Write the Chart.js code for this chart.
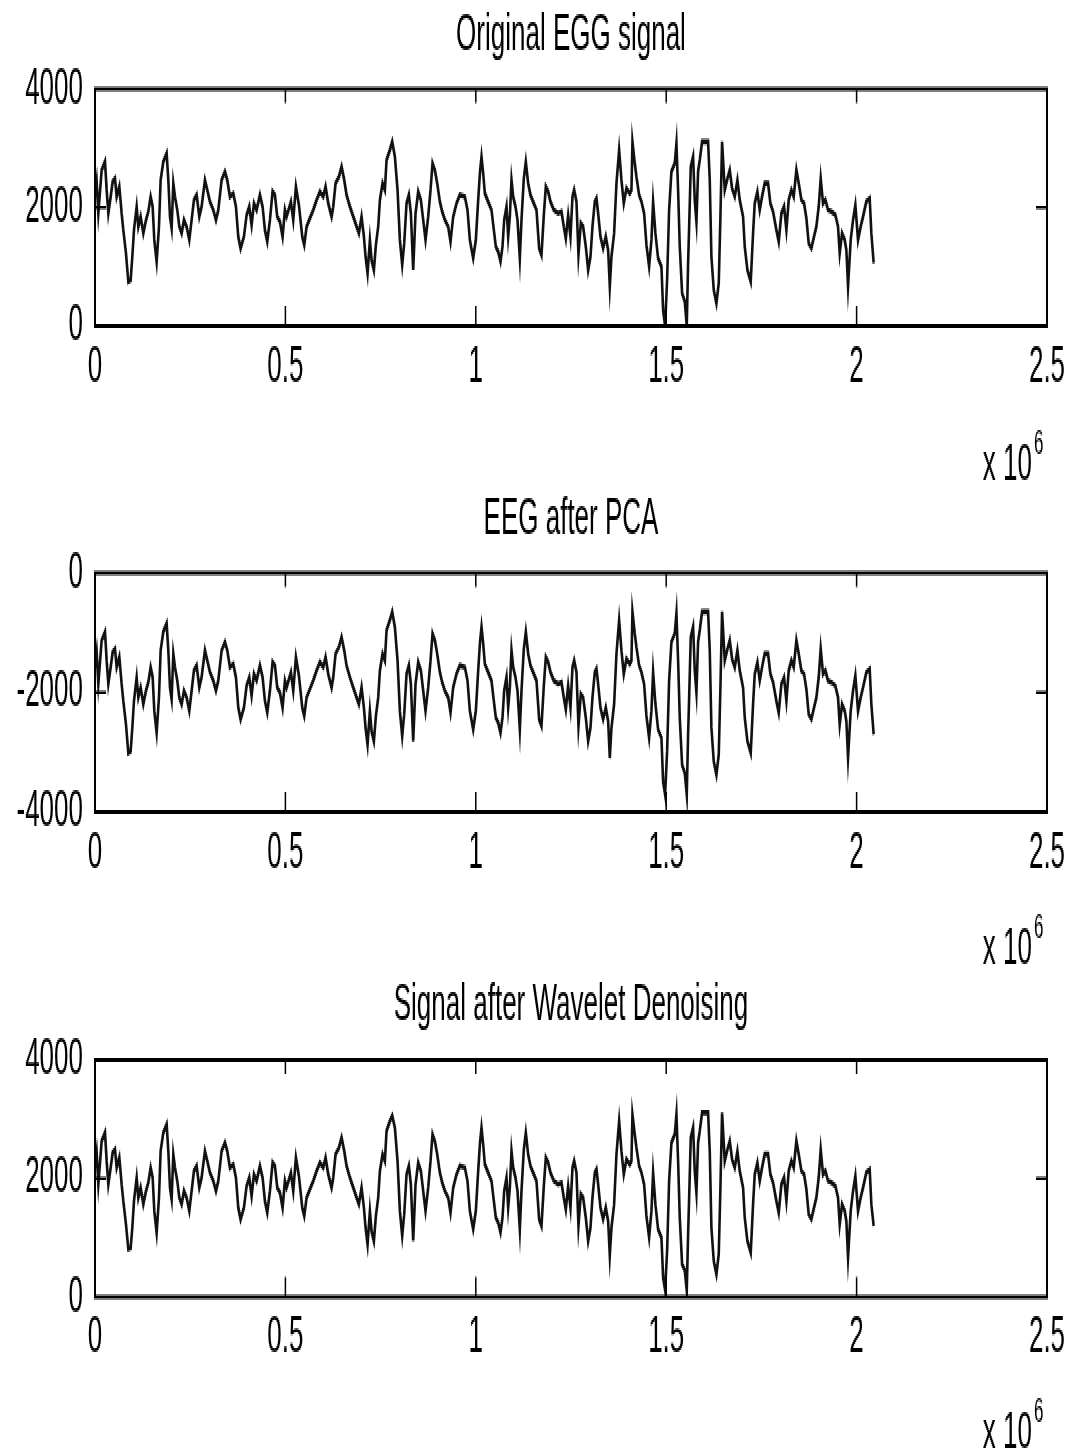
<!DOCTYPE html>
<html>
<head>
<meta charset="utf-8">
<title>EEG processing stages</title>
<script src="https://cdn.jsdelivr.net/npm/chart.js@4.4.1/dist/chart.umd.min.js"></script>
<style>
  html, body { margin: 0; padding: 0; background: #fff; }
  body { width: 1073px; height: 1451px; overflow: hidden; position: relative; }
  /* the figure is rendered at half height and stretched, like the original export */
  canvas.panel { position: absolute; left: 0; image-rendering: pixelated; }
</style>
</head>
<body>
<canvas class="panel" id="egg" width="1073" height="242" style="top:0;width:1073px;height:484px"></canvas>
<canvas class="panel" id="pca" width="1073" height="242" style="top:484px;width:1073px;height:484px"></canvas>
<canvas class="panel" id="denoised" width="1073" height="242" style="top:968px;width:1073px;height:484px"></canvas>
<script>
// sample index (x axis, shown as x 10^6)
const time = [
  0, 4375, 8750, 17500, 26250, 30625, 35000, 41125, 46375, 52500,
  56875, 63875, 70000, 74375, 81375, 87500, 93625, 98000, 102375, 109375,
  113750, 119875, 126875, 133875, 140000, 146125, 151375, 155750, 161875, 168000,
  172375, 179375, 188125, 192500, 196875, 201250, 205625, 210000, 216125, 221375,
  227500, 233625, 240625, 247625, 253750, 259875, 266875, 273875, 280000, 288750,
  294875, 301875, 310625, 317625, 323750, 332500, 341250, 347375, 354375, 363125,
  370125, 376250, 382375, 391125, 398125, 405125, 411250, 417375, 424375, 433125,
  440125, 446250, 452375, 459375, 466375, 472500, 478625, 485625, 492625, 498750,
  503125, 514500, 520625, 527625, 535500, 544250, 549500, 555625, 564375, 573125,
  581875, 590625, 599375, 605500, 612500, 621250, 625625, 631750, 640500, 647500,
  654500, 660625, 669375, 678125, 686875, 693000, 700000, 706125, 710500, 715750,
  721875, 726250, 732375, 737625, 743750, 748125, 755125, 761250, 765625, 774375,
  780500, 787500, 794500, 800625, 806750, 812000, 818125, 824250, 829500, 835625,
  841750, 848750, 855750, 861875, 868000, 875000, 881125, 886375, 892500, 898625,
  905625, 911750, 918750, 927500, 933625, 940625, 949375, 958125, 971250, 978250,
  984375, 993125, 1000125, 1006250, 1011000, 1015000, 1019375, 1023750, 1032500, 1041250,
  1047375, 1052625, 1058750, 1064875, 1070125, 1074500, 1080625, 1085000, 1089375, 1093750,
  1098125, 1104250, 1109500, 1115625, 1120000, 1126125, 1131375, 1137500, 1143625, 1150625,
  1159375, 1166375, 1172500, 1178625, 1183875, 1190000, 1196125, 1204875, 1216250, 1225000,
  1231125, 1236375, 1242500, 1248625, 1253875, 1258250, 1264375, 1269625, 1275750, 1281875,
  1288875, 1295000, 1301125, 1306375, 1312500, 1316875, 1321250, 1327375, 1334375, 1341375,
  1347500, 1351875, 1356250, 1363250, 1369375, 1376375, 1382500, 1388625, 1395625, 1404375,
  1408750, 1411375, 1417500, 1421875, 1428875, 1435000, 1442000, 1448125, 1455125, 1461250,
  1465625, 1471750, 1478750, 1487500, 1491875, 1497125, 1502375, 1507625, 1513750, 1522500,
  1526875, 1531250, 1535625, 1541750, 1548750, 1554000, 1557500, 1560125, 1564500, 1570625,
  1575000, 1579375, 1583750, 1588125, 1594250, 1610000, 1614375, 1618750, 1624875, 1631875,
  1638000, 1642375, 1646750, 1653750, 1659875, 1666875, 1673000, 1680000, 1687000, 1693125,
  1701875, 1706250, 1713250, 1722000, 1728125, 1732500, 1739500, 1745625, 1751750, 1758750,
  1767500, 1773625, 1780625, 1789375, 1795500, 1802500, 1809500, 1815625, 1821750, 1828750,
  1834875, 1841875, 1848000, 1855000, 1862000, 1868125, 1874250, 1881250, 1888250, 1894375,
  1900500, 1905750, 1911875, 1918000, 1925000, 1933750, 1944250, 1951250, 1955625, 1961750,
  1968750, 1973125, 1977500, 1984500, 1990625, 1996750, 2003750, 2010750, 2016875, 2025625,
  2034375, 2038750, 2044875
];

const eggSignal = [
  2183, 2436, 1902, 2633, 2774, 2295, 1902, 2183, 2436, 2492,
  2183, 2352, 1902, 1620, 1226, 748, 776, 1170, 1620, 2014,
  1677, 1845, 1564, 1789, 1930, 2183, 2014, 1452, 1086, 1677,
  2464, 2774, 2914, 2464, 1845, 1648, 2408, 2183, 1958, 1677,
  1564, 1789, 1677, 1452, 1789, 2127, 2211, 1845, 2014, 2464,
  2295, 2099, 1958, 1789, 1958, 2464, 2605, 2464, 2183, 2239,
  2014, 1508, 1311, 1508, 1873, 2014, 1705, 2070, 1958, 2211,
  2014, 1620, 1423, 1789, 2267, 2211, 1845, 1761, 1508, 1958,
  1845, 2099, 1789, 2352, 2042, 1508, 1367, 1677, 1817, 1958,
  2127, 2267, 2183, 2352, 2070, 1845, 2014, 2408, 2520, 2689,
  2464, 2211, 2014, 1845, 1677, 1564, 1845, 1508, 1170, 889,
  1452, 1114, 945, 1367, 1677, 2127, 2408, 2295, 2802, 2971,
  3111, 2858, 2295, 1452, 1030, 1395, 2070, 2211, 1902, 945,
  1902, 2267, 2127, 1789, 1452, 1845, 2295, 2745, 2633, 2408,
  2099, 1930, 1789, 1677, 1423, 1845, 2070, 2211, 2183, 1958,
  1452, 1142, 1452, 2127, 2600, 2858, 2577, 2239, 2099, 1958,
  1620, 1339, 1255, 1086, 1339, 1789, 2014, 1508, 1845, 2464,
  2183, 2014, 1789, 1142, 1789, 2492, 2774, 2408, 2211, 2099,
  1958, 1311, 1198, 1873, 2352, 2267, 2099, 1958, 1902, 1930,
  1677, 1480, 1873, 1508, 2183, 2295, 2099, 1198, 1733, 1677,
  1339, 945, 1170, 1677, 2099, 2155, 1902, 1508, 1311, 1508,
  1283, 664, 1170, 1564, 2408, 2971, 2464, 2070, 2323, 2239,
  2295, 3111, 2745, 2520, 2211, 2099, 1902, 1367, 1002, 1452,
  2099, 1564, 1142, 1002, 270, 0, 776, 1958, 2605, 2745,
  3083, 2295, 1339, 552, 411, 10, 1058, 1648, 2689, 2858,
  2127, 1761, 2605, 2802, 3111, 3111, 2464, 1170, 608, 383,
  720, 1845, 3111, 2295, 2464, 2633, 2323, 2183, 2464, 2127,
  1845, 1339, 945, 748, 1564, 2070, 2267, 1958, 2183, 2408,
  2408, 2070, 1930, 1620, 1423, 1902, 2014, 1620, 2127, 2295,
  2183, 2633, 2408, 2127, 2070, 1817, 1395, 1311, 1508, 1677,
  2014, 2492, 2070, 2127, 1958, 1930, 1873, 1677, 1226, 1564,
  1452, 1283, 664, 1452, 1789, 2042, 1452, 1677, 1845, 2099,
  2155, 1564, 1058
];

const pcaSignal = [
  -1577, -1324, -1858, -1127, -986, -1465, -1858, -1577, -1324, -1268,
  -1577, -1408, -1858, -2140, -2534, -3012, -2984, -2590, -2140, -1746,
  -2083, -1915, -2196, -1971, -1830, -1577, -1746, -2308, -2674, -2083,
  -1296, -986, -846, -1296, -1915, -2112, -1352, -1577, -1802, -2083,
  -2196, -1971, -2083, -2308, -1971, -1633, -1549, -1915, -1746, -1296,
  -1465, -1661, -1802, -1971, -1802, -1296, -1155, -1296, -1577, -1521,
  -1746, -2252, -2449, -2252, -1887, -1746, -2055, -1690, -1802, -1549,
  -1746, -2140, -2337, -1971, -1493, -1549, -1915, -1999, -2252, -1802,
  -1915, -1661, -1971, -1408, -1718, -2252, -2393, -2083, -1943, -1802,
  -1633, -1493, -1577, -1408, -1690, -1915, -1746, -1352, -1240, -1071,
  -1296, -1549, -1746, -1915, -2083, -2196, -1915, -2252, -2590, -2871,
  -2308, -2646, -2815, -2393, -2083, -1633, -1352, -1465, -958, -789,
  -649, -902, -1465, -2308, -2730, -2365, -1690, -1549, -1858, -2815,
  -1858, -1493, -1633, -1971, -2308, -1915, -1465, -1015, -1127, -1352,
  -1661, -1830, -1971, -2083, -2337, -1915, -1690, -1549, -1577, -1802,
  -2308, -2618, -2308, -1633, -1160, -902, -1183, -1521, -1661, -1802,
  -2140, -2421, -2505, -2674, -2421, -1971, -1746, -2252, -1915, -1296,
  -1577, -1746, -1971, -2618, -1971, -1268, -986, -1352, -1549, -1661,
  -1802, -2449, -2562, -1887, -1408, -1493, -1661, -1802, -1858, -1830,
  -2083, -2280, -1887, -2252, -1577, -1465, -1661, -2562, -2027, -2083,
  -2421, -2815, -2590, -2083, -1661, -1605, -1858, -2252, -2449, -2252,
  -2477, -3096, -2590, -2196, -1352, -789, -1296, -1690, -1437, -1521,
  -1465, -649, -1015, -1240, -1549, -1661, -1858, -2393, -2758, -2308,
  -1661, -2196, -2618, -2758, -3490, -3710, -2984, -1802, -1155, -1015,
  -677, -1465, -2421, -3208, -3349, -3710, -2702, -2112, -1071, -902,
  -1633, -1999, -1155, -958, -649, -649, -1296, -2590, -3152, -3377,
  -3040, -1915, -649, -1465, -1296, -1127, -1437, -1577, -1296, -1633,
  -1915, -2421, -2815, -3012, -2196, -1690, -1493, -1802, -1577, -1352,
  -1352, -1690, -1830, -2140, -2337, -1858, -1746, -2140, -1633, -1465,
  -1577, -1127, -1352, -1633, -1690, -1943, -2365, -2449, -2252, -2083,
  -1746, -1268, -1690, -1633, -1802, -1830, -1887, -2083, -2534, -2196,
  -2308, -2477, -3096, -2308, -1971, -1718, -2308, -2083, -1915, -1661,
  -1605, -2196, -2702
];

const denoisedSignal = [
  2183, 2436, 1902, 2633, 2774, 2295, 1902, 2183, 2436, 2492,
  2183, 2352, 1902, 1620, 1226, 810, 830, 1170, 1620, 2014,
  1677, 1845, 1564, 1789, 1930, 2183, 2014, 1452, 1086, 1677,
  2464, 2774, 2914, 2464, 1845, 1648, 2408, 2183, 1958, 1677,
  1564, 1789, 1677, 1452, 1789, 2127, 2211, 1845, 2014, 2464,
  2295, 2099, 1958, 1789, 1958, 2464, 2605, 2464, 2183, 2239,
  2014, 1508, 1311, 1508, 1873, 2014, 1705, 2070, 1958, 2211,
  2014, 1620, 1423, 1789, 2267, 2211, 1845, 1761, 1508, 1958,
  1845, 2099, 1789, 2352, 2042, 1508, 1367, 1677, 1817, 1958,
  2127, 2267, 2183, 2352, 2070, 1845, 2014, 2408, 2520, 2689,
  2464, 2211, 2014, 1845, 1677, 1564, 1845, 1508, 1170, 889,
  1452, 1114, 945, 1367, 1677, 2127, 2408, 2295, 2802, 2971,
  3060, 2858, 2295, 1452, 1030, 1395, 2070, 2211, 1902, 945,
  1902, 2267, 2127, 1789, 1452, 1845, 2295, 2745, 2633, 2408,
  2099, 1930, 1789, 1677, 1423, 1845, 2070, 2211, 2183, 1958,
  1452, 1142, 1452, 2127, 2600, 2858, 2577, 2239, 2099, 1958,
  1620, 1339, 1255, 1086, 1339, 1789, 2014, 1508, 1845, 2464,
  2183, 2014, 1789, 1142, 1789, 2492, 2774, 2408, 2211, 2099,
  1958, 1311, 1198, 1873, 2352, 2267, 2099, 1958, 1902, 1930,
  1677, 1480, 1873, 1508, 2183, 2295, 2099, 1198, 1733, 1677,
  1339, 945, 1170, 1677, 2099, 2155, 1902, 1508, 1311, 1508,
  1283, 700, 1170, 1564, 2408, 2971, 2464, 2070, 2323, 2239,
  2295, 3080, 2745, 2520, 2211, 2099, 1902, 1367, 1002, 1452,
  2099, 1564, 1142, 1002, 330, 120, 776, 1958, 2605, 2745,
  3083, 2295, 1339, 552, 450, 110, 1058, 1648, 2689, 2858,
  2127, 1761, 2605, 2802, 3111, 3111, 2464, 1170, 608, 383,
  720, 1845, 3111, 2295, 2464, 2633, 2323, 2183, 2464, 2127,
  1845, 1339, 945, 748, 1564, 2070, 2267, 1958, 2183, 2408,
  2408, 2070, 1930, 1620, 1423, 1902, 2014, 1620, 2127, 2295,
  2183, 2633, 2408, 2127, 2070, 1817, 1395, 1311, 1508, 1677,
  2014, 2492, 2070, 2127, 1958, 1930, 1873, 1677, 1226, 1564,
  1452, 1283, 664, 1452, 1789, 2042, 1452, 1677, 1845, 2099,
  2155, 1564, 1200
];

const panelTitles = ["Original EGG signal", "EEG after PCA", "Signal after Wavelet Denoising"];
const xTicks = [0, 0.5, 1, 1.5, 2, 2.5];      // in units of 10^6
const signalYTicks = [0, 2000, 4000];
const pcaYTicks = [-4000, -2000, 0];

const FONT = "'Liberation Sans', Arial, Helvetica, sans-serif";
const H = 242;  // canvas buffer height (drawn at 2x vertically)

// box + inward ticks, matlab style, plus the "x 10^6" multiplier
const frame = {
  id: "frame",
  afterDraw(chart) {
    const { ctx, chartArea: a, scales: { x, y } } = chart;
    ctx.save();
    ctx.strokeStyle = "#000";
    ctx.lineWidth = 2;
    ctx.strokeRect(a.left, a.top, a.right - a.left, a.bottom - a.top);
    ctx.lineWidth = 1.5;
    ctx.beginPath();
    x.ticks.forEach(t => {
      if (t.value <= x.min || t.value >= x.max) return;
      const px = x.getPixelForValue(t.value);
      ctx.moveTo(px, a.top); ctx.lineTo(px, a.top + 7);
      ctx.moveTo(px, a.bottom); ctx.lineTo(px, a.bottom - 10);
    });
    y.ticks.forEach(t => {
      if (t.value <= y.min || t.value >= y.max) return;
      const py = y.getPixelForValue(t.value);
      ctx.moveTo(a.left, py); ctx.lineTo(a.left + 11, py);
      ctx.moveTo(a.right, py); ctx.lineTo(a.right - 11, py);
    });
    ctx.stroke();

    ctx.fillStyle = "#000";
    ctx.textBaseline = "middle";
    ctx.textAlign = "right";
    ctx.font = "26px " + FONT;
    ctx.fillText("x 10", a.right - 15, H - 9.5);
    ctx.textAlign = "left";
    ctx.font = "17px " + FONT;
    ctx.fillText("6", a.right - 13, H - 19.5);
    ctx.restore();
  }
};

function makePanel(id, title, values, yTicks, top, bottom) {
  const font = { family: FONT, size: 26, weight: "normal" };
  return new Chart(document.getElementById(id), {
    type: "line",
    data: {
      datasets: [{
        data: time.map((t, i) => ({ x: t, y: values[i] })),
        borderColor: "#111",
        borderWidth: 2.6,
        pointRadius: 0,
        tension: 0,
        fill: false
      }]
    },
    options: {
      responsive: false,
      animation: false,
      devicePixelRatio: 1,
      layout: { padding: { top: top - 44.5, right: 26, bottom: 0, left: 0 } },
      plugins: {
        legend: { display: false },
        tooltip: { enabled: false },
        title: {
          display: true,
          text: title,
          fullSize: false,
          color: "#000",
          font: { ...font, lineHeight: 1.2 },
          padding: { top: 2, bottom: 11.3 }
        }
      },
      scales: {
        x: {
          type: "linear",
          min: 0,
          max: 2.5e6,
          afterBuildTicks: s => { s.ticks = xTicks.map(v => ({ value: v * 1e6 })); },
          afterFit: s => { s.height = H - bottom; },
          grid: { display: false, drawTicks: false },
          border: { display: false },
          ticks: {
            color: "#000",
            font: { ...font, lineHeight: 1.2 },
            padding: 5,
            autoSkip: false,
            maxRotation: 0,
            callback: v => String(v / 1e6)
          }
        },
        y: {
          min: yTicks[0],
          max: yTicks[yTicks.length - 1],
          afterBuildTicks: s => { s.ticks = yTicks.map(v => ({ value: v })); },
          afterFit: s => { s.width = 95; },
          grid: { display: false, drawTicks: false },
          border: { display: false },
          ticks: {
            color: "#000",
            font: font,
            padding: 12,
            callback: v => String(v)
          }
        }
      }
    },
    plugins: [frame]
  });
}

makePanel("egg", panelTitles[0], eggSignal, signalYTicks, 44.5, 163);
makePanel("pca", panelTitles[1], pcaSignal, pcaYTicks, 44.5, 164);
makePanel("denoised", panelTitles[2], denoisedSignal, signalYTicks, 46, 164.5);
</script>
</body>
</html>
